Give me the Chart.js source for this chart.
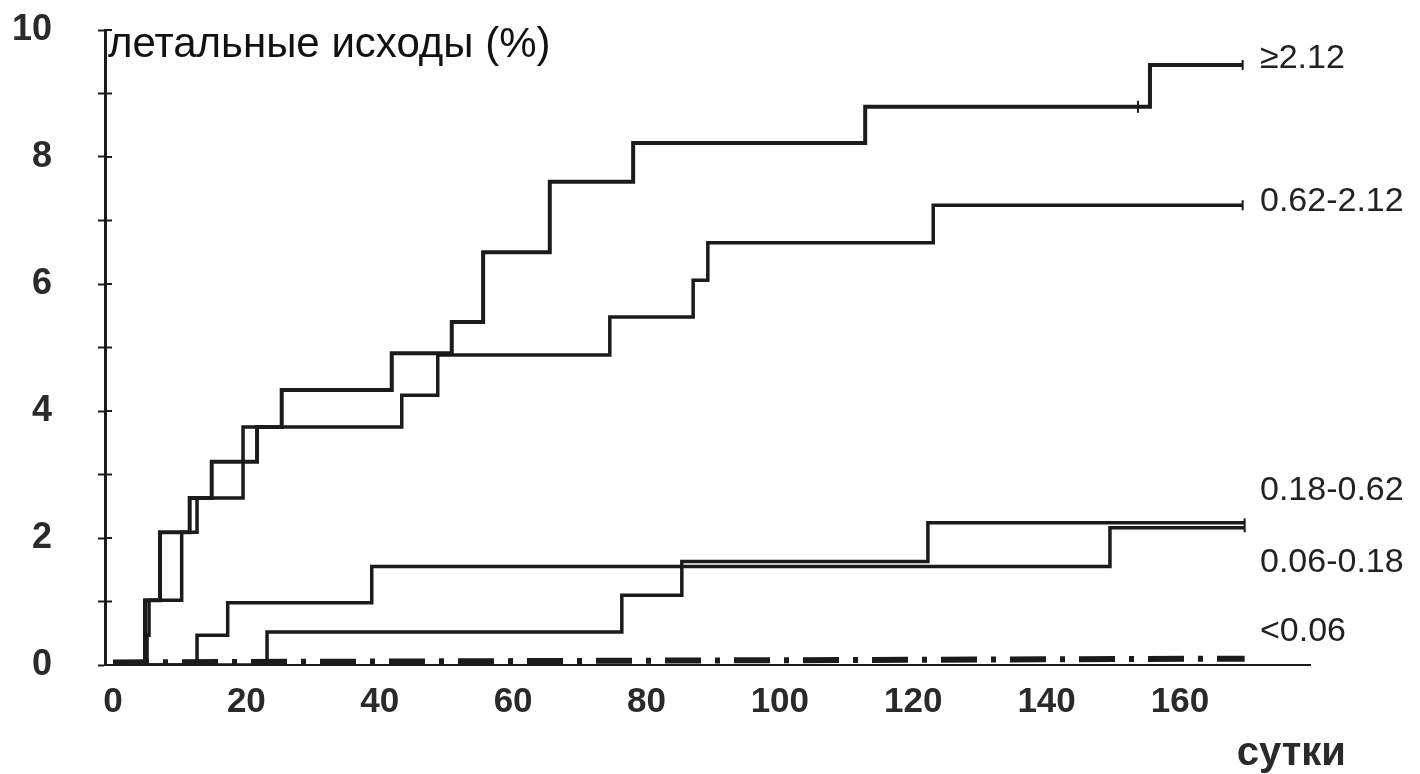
<!DOCTYPE html>
<html>
<head>
<meta charset="utf-8">
<script src="https://cdn.jsdelivr.net/npm/chart.js@4.4.1/dist/chart.umd.min.js"></script>
<style>
html,body{margin:0;padding:0;background:#fff;}
#wrap{width:1420px;height:774px;position:relative;}
</style>
</head>
<body>
<div id="wrap"><canvas id="c" width="1420" height="774"></canvas></div>
<script>
// ---- data ----
const seriesNames = ['≥2.12', '0.62-2.12', '0.18-0.62', '0.06-0.18', '<0.06'];
const daysA = [0, 4.8, 7.05, 11.5, 14.8, 21.6, 25.3, 41.8, 50.8, 55.5, 65.5, 78.0, 112.8, 155.5, 169.4];
const valsA = [0, 1.02, 2.09, 2.63, 3.20, 3.75, 4.33, 4.91, 5.40, 6.50, 7.61, 8.22, 8.79, 9.45, 9.45];
const daysB = [0, 5.1, 5.4, 10.3, 12.6, 19.5, 43.3, 48.7, 74.5, 87.0, 89.2, 123.0, 169.4];
const valsB = [0, 0.47, 1.02, 2.09, 2.63, 3.75, 4.25, 4.88, 5.48, 6.06, 6.65, 7.24, 7.24];
const daysC = [0, 12.6, 17.2, 38.8, 149.5, 169.7];
const valsC = [0, 0.47, 0.98, 1.55, 2.16, 2.16];
const daysD = [0, 23.1, 76.3, 85.3, 122.2, 169.7];
const valsD = [0, 0.52, 1.10, 1.63, 2.24, 2.24];
const daysE = [0, 169.7];
const valsE = [0.04, 0.10];
const censorDays = [153.7, 169.4, 169.4, 169.7];
const censorVals = [8.79, 9.45, 7.24, 2.20];
const endDotDay = [180.7];
const endDotVal = [0.06];
const xTickLabels = [0, 20, 40, 60, 80, 100, 120, 140, 160];
const yTickLabels = [0, 2, 4, 6, 8, 10];
const labelAnchorVals = [9.55, 7.3, 2.75, 1.62, 0.52];
const labelAnchorDay = 172;
const yTitle = 'летальные исходы (%)';
const xTitle = 'сутки';

const toPts = (xs, ys) => xs.map((x, i) => ({x: x, y: ys[i]}));
const INK = '#1b1b1b';
const TXT = '#2a2a2a';

const textPlugin = {
  id: 'extras',
  afterDraw(chart) {
    const {ctx, scales: {x, y}} = chart;
    ctx.save();
    // inner halves of the y-axis ticks (ticks cross the axis)
    ctx.strokeStyle = INK; ctx.lineWidth = 2;
    const ax = chart.chartArea.left;
    for (let v = 1; v <= 10; v++) {
      const py = y.getPixelForValue(v);
      ctx.beginPath(); ctx.moveTo(ax, py); ctx.lineTo(ax + 7, py); ctx.stroke();
    }
    // y-axis title next to the axis top
    ctx.fillStyle = '#111';
    ctx.textBaseline = 'middle';
    ctx.textAlign = 'left';
    ctx.font = '42px "Liberation Sans", Arial, sans-serif';
    ctx.fillText(yTitle, ax + 3, y.getPixelForValue(10) + 15);
    // x-axis title
    ctx.font = 'bold 40px "Liberation Sans", Arial, sans-serif';
    ctx.fillStyle = TXT;
    ctx.fillText(xTitle, x.getPixelForValue(168.5), 754);
    // series labels at right
    ctx.font = '34px "Liberation Sans", Arial, sans-serif';
    ctx.fillStyle = '#222';
    seriesNames.forEach((n, i) => {
      ctx.fillText(n, x.getPixelForValue(labelAnchorDay), y.getPixelForValue(labelAnchorVals[i]));
    });
    ctx.restore();
  }
};

const lineDs = (label, xs, ys, extra) => Object.assign({
  label: label,
  data: toPts(xs, ys),
  borderColor: INK,
  borderWidth: 3.5,
  pointRadius: 0,
  stepped: true,
  fill: false
}, extra || {});

new Chart(document.getElementById('c'), {
  type: 'line',
  data: {
    datasets: [
      lineDs(seriesNames[0], daysA, valsA, {borderWidth: 4}),
      lineDs(seriesNames[1], daysB, valsB),
      lineDs(seriesNames[2], daysC, valsC),
      lineDs(seriesNames[3], daysD, valsD),
      lineDs(seriesNames[4], daysE, valsE, {stepped: false, borderWidth: 6, borderDash: [36, 14, 5, 14], borderCapStyle: 'butt'}),
      {
        type: 'scatter',
        label: 'censored',
        data: toPts(censorDays, censorVals),
        pointStyle: 'line',
        rotation: 90,
        pointRadius: [6, 5, 5, 7],
        borderColor: INK,
        pointBorderWidth: 2,
        clip: false
      },
      {
        type: 'scatter',
        label: 'end',
        data: toPts(endDotDay, endDotVal),
        pointStyle: 'circle',
        pointRadius: 2,
        backgroundColor: INK,
        borderColor: INK,
        clip: false
      }
    ]
  },
  options: {
    responsive: false,
    animation: false,
    devicePixelRatio: 1,
    layout: {padding: {left: 0, right: 110, top: 30, bottom: 0}},
    plugins: {legend: {display: false}, tooltip: {enabled: false}, title: {display: false}},
    scales: {
      x: {
        type: 'linear',
        min: -1.2,
        max: 179.5,
        afterBuildTicks: s => { s.ticks = xTickLabels.map(v => ({value: v})); },
        afterFit: s => { s.height = 109; s.paddingLeft = 0; s.paddingRight = 0; },
        grid: {display: true, drawOnChartArea: false, drawTicks: false, color: INK},
        border: {display: true, color: INK, width: 2},
        ticks: {
          padding: 16,
          color: TXT,
          font: {family: '"Liberation Sans", Arial, sans-serif', size: 35, weight: 'bold'},
          maxRotation: 0,
          autoSkip: false
        }
      },
      y: {
        type: 'linear',
        min: 0,
        max: 10,
        afterFit: s => { s.width = 105; s.paddingTop = 0; s.paddingBottom = 0; },
        ticks: {
          stepSize: 1,
          padding: 46,
          color: TXT,
          font: {family: '"Liberation Sans", Arial, sans-serif', size: 36, weight: 'bold'},
          callback: v => (yTickLabels.includes(v) ? String(v) : '')
        },
        grid: {display: true, drawOnChartArea: false, drawTicks: true, tickLength: 7, tickWidth: 2, tickColor: INK},
        border: {display: true, color: INK, width: 3}
      }
    }
  },
  plugins: [textPlugin]
});
</script>
</body>
</html>
